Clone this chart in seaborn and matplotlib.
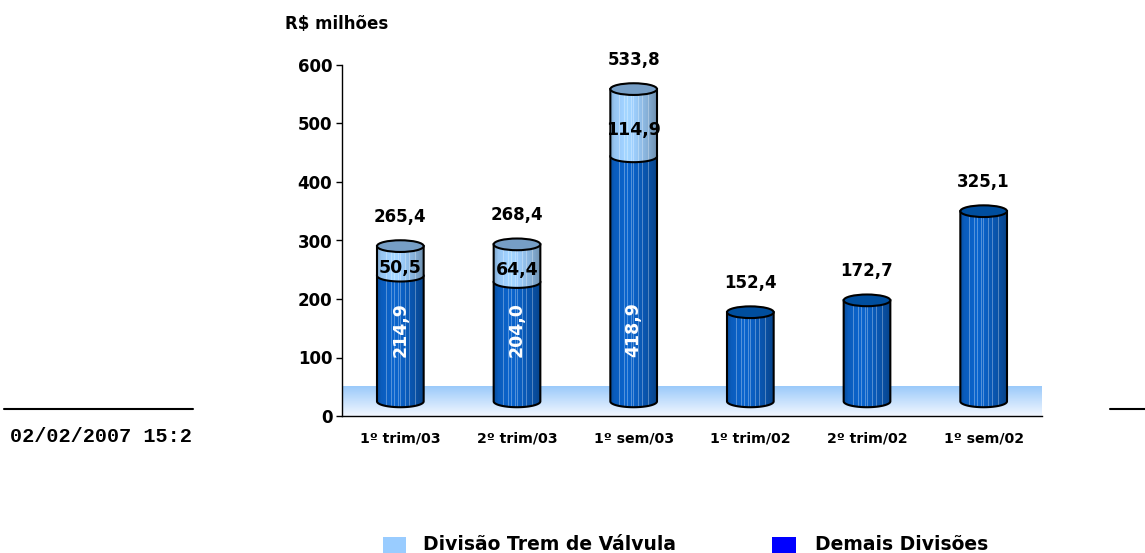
import numpy as np
import seaborn as sns
import matplotlib.pyplot as plt
from matplotlib.patches import Polygon, Ellipse, Rectangle
from matplotlib.lines import Line2D

# data (R$ milhões)
categories = ['1º trim/03', '2º trim/03', '1º sem/03', '1º trim/02', '2º trim/02', '1º sem/02']
demais = [214.9, 204.0, 418.9, 152.4, 172.7, 325.1]
valvula = [50.5, 64.4, 114.9, 0.0, 0.0, 0.0]
totals = [265.4, 268.4, 533.8, 152.4, 172.7, 325.1]
yticks = [0, 100, 200, 300, 400, 500, 600]

# style
DEPTH = 25          # 3D floor: cylinders stand this far above the zero line
ELL_H = 20          # ellipse height in data units
FLOOR = 50
BAR_W = 0.40
DEM_BODY = np.array([10, 92, 188]) / 255
DEM_TOP = np.array([0, 78, 158]) / 255
VAL_BODY = np.array([150, 196, 240]) / 255
VAL_TOP = np.array([118, 158, 198]) / 255
LEG_VAL = '#99ccff'
LEG_DEM = '#0000ff'

sns.set_style('white')
plt.rcParams['font.family'] = ['DejaVu Sans']
plt.rcParams['font.weight'] = 'bold'
plt.rcParams['text.color'] = 'black'
plt.rcParams['xtick.color'] = 'black'
plt.rcParams['ytick.color'] = 'black'

W, H = 1145, 553
fig = plt.figure(figsize=(W / 100, H / 100), dpi=100)
ax = fig.add_axes([342 / W, (H - 416) / H, 700 / W, 351 / H])

# seaborn lays out the categorical bars; they are then lifted onto the floor
sns.barplot(x=categories, y=totals, color=VAL_BODY, width=BAR_W, ax=ax,
            errorbar=None, zorder=1)
sns.barplot(x=categories, y=demais, color=DEM_BODY, width=BAR_W, ax=ax,
            errorbar=None, zorder=1)
bars_tot = ax.patches[:len(categories)]
for p in ax.patches:
    p.set_y(DEPTH)
    p.set_linewidth(0)


def shade_strip(base, n=48):
    u = np.linspace(0, 1, n)
    f = np.interp(u, [0, 0.08, 0.35, 0.55, 0.8, 1.0], [0.86, 1.0, 1.1, 1.04, 0.9, 0.74])
    col = np.clip(base[None, :] * f[:, None], 0, 1)
    for s in [0.2, 0.3, 0.38, 0.46, 0.52, 0.63, 0.72, 0.85]:
        k = int(s * (n - 1))
        col[k] = col[k] * 0.7 + 0.3
    return col[None, :, :]


def body(x0, w, y0, y1, base, z):
    t = np.linspace(np.pi, 2 * np.pi, 60)
    arc = np.column_stack([x0 + w / 2 + w / 2 * np.cos(t), y0 + ELL_H / 2 * np.sin(t)])
    pts = np.vstack([arc, [[x0 + w, y1], [x0, y1]]])
    clip = Polygon(pts, closed=True, transform=ax.transData, facecolor='none')
    im = ax.imshow(shade_strip(base), extent=[x0, x0 + w, y0 - ELL_H / 2, y1],
                   aspect='auto', interpolation='nearest', zorder=z)
    im.set_clip_path(clip)
    ax.add_patch(Polygon(pts, closed=True, facecolor='none', edgecolor='black',
                         linewidth=1.5, zorder=z + 0.05))


# floor gradient
floor = np.linspace([242, 247, 255], [155, 202, 250], 40)[:, None, :] / 255
ax.imshow(floor, extent=[-0.5, len(categories) - 0.5, 0, FLOOR], aspect='auto',
          origin='lower', zorder=0.5)

for i, p in enumerate(bars_tot):
    x0, w = p.get_x(), p.get_width()
    xc = x0 + w / 2
    y_mid = DEPTH + demais[i]
    y_top = y_mid + valvula[i]
    body(x0, w, DEPTH, y_mid, DEM_BODY, 2 + i)
    top_col = DEM_TOP
    if valvula[i] > 0:
        body(x0, w, y_mid, y_top, VAL_BODY, 2.3 + i)
        top_col = VAL_TOP
        ax.annotate(f'{valvula[i]:.1f}'.replace('.', ','), xy=(xc, (y_mid + y_top) / 2),
                    xytext=(0, -5), textcoords='offset points', ha='center', va='center',
                    fontsize=12.5, fontweight='bold', color='black', zorder=10)
    ax.add_patch(Ellipse((xc, y_top), w, ELL_H, facecolor=top_col, edgecolor='black',
                         linewidth=1.5, zorder=2.6 + i))
    ax.annotate(f'{totals[i]:.1f}'.replace('.', ','), xy=(xc, y_top),
                xytext=(0, 21), textcoords='offset points', ha='center', va='center',
                fontsize=12, fontweight='bold', color='black', zorder=10)
    if valvula[i] > 0:
        ax.text(xc, DEPTH + 122, f'{demais[i]:.1f}'.replace('.', ','), rotation=90,
                ha='center', va='center', fontsize=12.5, fontweight='bold',
                color='white', zorder=10)

ax.set_xlim(-0.5, len(categories) - 0.5)
ax.set_ylim(0, 600)
ax.set_yticks(yticks)
ax.set_yticklabels([str(v) for v in yticks], fontsize=12, fontweight='bold')
ax.set_xticks(range(len(categories)))
ax.set_xticklabels(categories, fontsize=10.2, fontweight='bold')
ax.set_xticks(np.arange(-0.5, len(categories)), minor=True)
ax.tick_params(axis='x', which='major', length=0, pad=11)
ax.tick_params(axis='x', which='minor', length=5, width=1, color='black', direction='out')
ax.tick_params(axis='y', length=4, width=1, color='black', direction='out', pad=3, left=True)
ax.set_xlabel('')
ax.set_ylabel('')
sns.despine(ax=ax, top=True, right=True)
for s in ['left', 'bottom']:
    ax.spines[s].set_color('black')
    ax.spines[s].set_linewidth(1)

fig.text(285 / W, 1 - 24 / H, 'R$ milhões', ha='left', va='center',
         fontsize=12, fontweight='bold')

# page decorations
fig.add_artist(Line2D([4 / W, 193 / W], [1 - 409 / H] * 2, color='black', linewidth=1.5))
fig.add_artist(Line2D([1110 / W, 1 / 1], [1 - 409 / H] * 2, color='black', linewidth=1.5))
fig.text(10 / W, 1 - 436 / H, '02/02/2007 15:2', ha='left', va='center',
         family='Liberation Mono', fontsize=14.5, fontweight='bold', color='black')

# legend
fig.add_artist(Rectangle((383 / W, 0), 23 / W, 16 / H, transform=fig.transFigure,
                         facecolor=LEG_VAL, edgecolor='none'))
fig.add_artist(Rectangle((772 / W, 0), 24 / W, 16 / H, transform=fig.transFigure,
                         facecolor=LEG_DEM, edgecolor='none'))
fig.text(423 / W, 1 - 550.5 / H, 'Divisão Trem de Válvula', ha='left', va='baseline',
         fontsize=13.5, fontweight='bold')
fig.text(815 / W, 1 - 550.5 / H, 'Demais Divisões', ha='left', va='baseline',
         fontsize=13.5, fontweight='bold')

fig.savefig('out.png', dpi=100)
